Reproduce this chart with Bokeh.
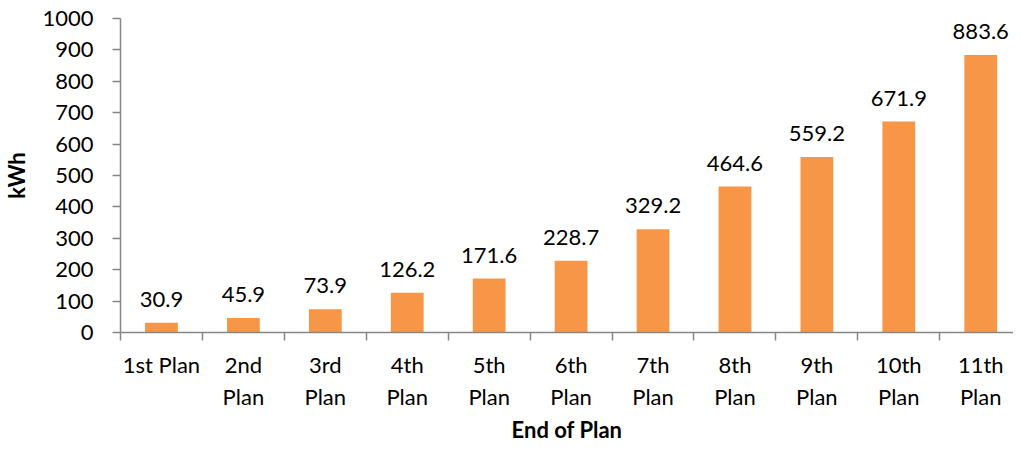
from bokeh.plotting import figure
from bokeh.models import ColumnDataSource, FixedTicker, Range1d, LabelSet
from bokeh.core.properties import value
from bokeh.embed import file_html
from bokeh.resources import INLINE

categories = ["1st Plan", "2nd\nPlan", "3rd\nPlan", "4th\nPlan", "5th\nPlan", "6th\nPlan",
              "7th\nPlan", "8th\nPlan", "9th\nPlan", "10th\nPlan", "11th\nPlan"]
values = [30.9, 45.9, 73.9, 126.2, 171.6, 228.7, 329.2, 464.6, 559.2, 671.9, 883.6]
y_ticks = [0, 100, 200, 300, 400, 500, 600, 700, 800, 900, 1000]

FONT = "Lato"
AXIS_COLOR = "#868686"
BAR_COLOR = "#F79646"

xs = [i + 0.5 for i in range(len(categories))]
labels = [f"{v:.1f}" for v in values]
src = ColumnDataSource(dict(x=xs, top=values, label=labels))

p = figure(width=1013, height=445, output_backend="svg", toolbar_location=None,
           x_range=Range1d(0, 10.9), y_range=Range1d(0, 1000),
           min_border_left=108, min_border_right=0, min_border_top=18, min_border_bottom=100)
p.outline_line_color = None
p.xgrid.visible = False
p.ygrid.visible = False

p.vbar(x="x", top="top", width=0.4, bottom=0, source=src, fill_color=BAR_COLOR, line_color=None)

lbl = LabelSet(x="x", y="top", text="label", source=src, text_align="center",
               text_baseline="bottom", y_offset=16, text_font=value(FONT),
               text_font_size=value("22px"), text_color="#000000")
p.add_layout(lbl)

xa = p.xaxis[0]
xa.ticker = FixedTicker(ticks=xs, minor_ticks=list(range(len(categories) + 1)))
xa.major_label_overrides = {x: c for x, c in zip(xs, categories)}
xa.major_tick_out = 0
xa.major_tick_in = 0
xa.minor_tick_out = 8
xa.minor_tick_in = 0
xa.minor_tick_line_color = AXIS_COLOR
xa.axis_line_color = AXIS_COLOR
xa.axis_line_width = 1.5
xa.minor_tick_line_width = 1.5
xa.major_label_text_font = FONT
xa.major_label_text_font_size = "22px"
xa.major_label_text_color = "#000000"
xa.major_label_standoff = 10
xa.axis_label = "End of Plan"
xa.axis_label_text_font = FONT
xa.axis_label_text_font_size = "22px"
xa.axis_label_text_font_style = "bold"
xa.axis_label_text_color = "#000000"
xa.axis_label_standoff = 3

ya = p.yaxis[0]
ya.ticker = FixedTicker(ticks=y_ticks, minor_ticks=[])
ya.major_tick_out = 8
ya.major_tick_in = 0
ya.minor_tick_out = 0
ya.minor_tick_in = 0
ya.major_tick_line_color = AXIS_COLOR
ya.major_tick_line_width = 1.5
ya.axis_line_color = AXIS_COLOR
ya.axis_line_width = 1.5
ya.major_label_text_font = FONT
ya.major_label_text_font_size = "22px"
ya.major_label_text_color = "#000000"
ya.major_label_standoff = 19
ya.axis_label = "kWh"
ya.axis_label_text_font = FONT
ya.axis_label_text_font_size = "22px"
ya.axis_label_text_font_style = "bold"
ya.axis_label_text_color = "#000000"
ya.axis_label_standoff = 9

open("out.html", "w").write(file_html(p, INLINE))
